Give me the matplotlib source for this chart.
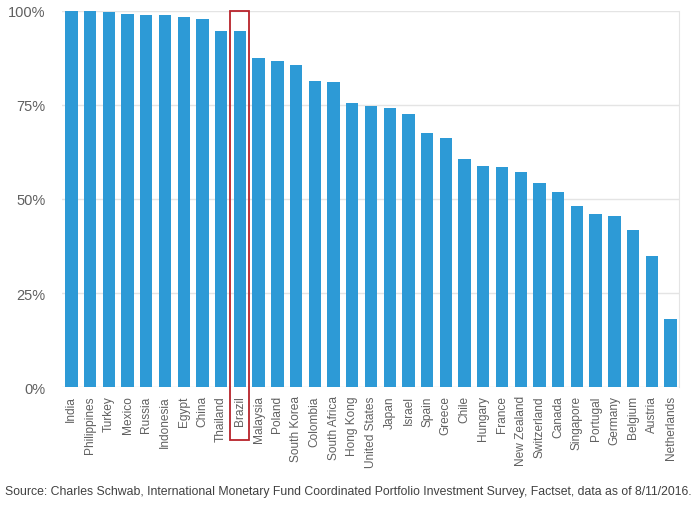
import numpy as np
import matplotlib
matplotlib.use("Agg")
import matplotlib.pyplot as plt
from matplotlib.patches import Rectangle

plt.rcParams['font.family'] = ['Liberation Sans', 'DejaVu Sans']

countries = ["India", "Philippines", "Turkey", "Mexico", "Russia", "Indonesia", "Egypt",
             "China", "Thailand", "Brazil", "Malaysia", "Poland", "South Korea", "Colombia",
             "South Africa", "Hong Kong", "United States", "Japan", "Israel", "Spain", "Greece",
             "Chile", "Hungary", "France", "New Zealand", "Switzerland", "Canada", "Singapore",
             "Portugal", "Germany", "Belgium", "Austria", "Netherlands"]
shares = [100.0, 100.0, 99.8, 99.2, 99.0, 98.9, 98.4, 97.9, 94.6, 94.6, 87.5, 86.7, 85.7,
          81.3, 81.2, 75.5, 74.6, 74.2, 72.7, 67.6, 66.2, 60.6, 58.9, 58.4, 57.3, 54.3,
          51.9, 48.1, 45.9, 45.5, 41.8, 34.9, 18.0]
yticks = [0, 25, 50, 75, 100]
ytick_labels = ["0%", "25%", "50%", "75%", "100%"]
highlight = "Brazil"
source = ("Source: Charles Schwab, International Monetary Fund Coordinated Portfolio "
          "Investment Survey, Factset, data as of 8/11/2016.")

fig = plt.figure(figsize=(6.92, 5.10), dpi=100)
ax = fig.add_axes([0.0896, 0.2392, 0.8916, 0.7373])

x = np.arange(len(countries))
ax.bar(x, shares, width=0.66, color='#2D9AD6', zorder=2)

ax.set_xlim(-0.5, len(countries) - 0.55)
ax.set_ylim(0, 100)
ax.set_yticks(yticks)
ax.set_yticklabels(ytick_labels)
ax.set_xticks(x)
ax.set_xticklabels(countries, rotation=90)
ax.tick_params(axis='y', length=0, pad=12, labelsize=10.5, labelcolor='#606060')
ax.tick_params(axis='x', length=0, pad=6, labelsize=8.6, labelcolor='#606060')
ax.grid(axis='y', color='#E4E4E4', linewidth=1, zorder=0)

for side in ['top', 'left', 'bottom']:
    ax.spines[side].set_visible(False)
ax.spines['right'].set_color('#E4E4E4')

i = countries.index(highlight)
box = Rectangle((i - 0.51, -14.1), 1.02, 114.1, fill=False, edgecolor='#B8222A',
                linewidth=1.3, clip_on=False, zorder=3)
ax.add_patch(box)

fig.text(0.007, 0.035, source, fontsize=8.8, color='#404040', va='center', ha='left')

fig.savefig("out.png", dpi=100)
